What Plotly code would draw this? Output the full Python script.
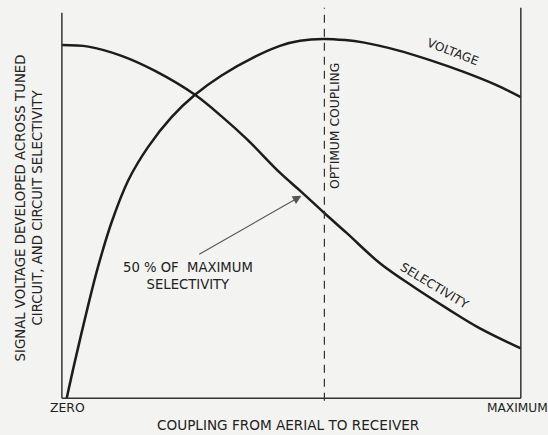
import plotly.graph_objects as go

# Coupling (0 = zero, 100 = maximum) and relative curve heights
sel_x = [0, 5.75, 13.0, 20.3, 29.0, 34.8, 40.3, 47.5, 52.3, 57.3, 62.1, 69.3, 76.6, 83.9, 91.1, 100]
sel_y = [91.6, 91.2, 88.8, 84.9, 78.7, 73.1, 67.2, 58.5, 53.4, 47.9, 42.8, 35.0, 28.9, 23.3, 18.1, 12.9]

volt_x = [1.05, 2.85, 5.75, 7.93, 10.85, 14.5, 18.8, 23.9, 29.0, 34.8, 42.1, 47.5, 51.9, 56.9,
          61.7, 65.6, 73.0, 80.2, 87.4, 94.7, 100]
volt_y = [0, 9.6, 24.2, 34.3, 45.7, 56.6, 65.2, 72.9, 78.7, 83.7, 88.6, 91.4, 92.7, 93.2,
          92.9, 92.3, 90.3, 87.7, 84.7, 81.2, 78.1]

optimum_x = 57.2
x_tick_labels = ["ZERO", "MAXIMUM"]
y_title = ["SIGNAL VOLTAGE DEVELOPED ACROSS TUNED", "CIRCUIT, AND CIRCUIT SELECTIVITY"]
x_title = "COUPLING FROM AERIAL TO RECEIVER"

INK = "#1c1c1c"
TXT = "#222222"
FONT = "DejaVu Sans"
BG = "#f3f3f1"

fig = go.Figure()
for xs, ys in ((sel_x, sel_y), (volt_x, volt_y)):
    fig.add_trace(go.Scatter(x=xs, y=ys, mode="lines",
                             line=dict(color=INK, width=2.5, shape="spline", smoothing=1.0),
                             hoverinfo="skip", showlegend=False))

# frame lines
fig.add_shape(type="line", x0=0, x1=0, y0=0, y1=100, line=dict(color="#333", width=1.5))
fig.add_shape(type="line", x0=100, x1=100, y0=0, y1=101.3, line=dict(color="#333", width=1.5))
fig.add_shape(type="line", x0=0, x1=100, y0=0, y1=0, line=dict(color="#333", width=1.5))
fig.add_shape(type="line", x0=optimum_x, x1=optimum_x, y0=-0.7, y1=101.3,
              line=dict(color="#333", width=1.2, dash="8px,6px"))

def fnt(s):
    return dict(family=FONT, size=s, color=TXT)

C = dict(xanchor="center", yanchor="middle", showarrow=False)
anns = [
    dict(xref="paper", yref="paper", x=0.0253, y=-0.0151, text=x_tick_labels[0], font=fnt(12.4), **C),
    dict(xref="paper", yref="paper", x=0.973, y=-0.0151, text=x_tick_labels[1], font=fnt(12.2), **C),
    dict(xref="paper", yref="paper", x=0.4926, y=-0.058, text=x_title, font=fnt(13.6), **C),
    dict(xref="paper", yref="paper", x=-0.0558, y=0.4887, text="<br>".join(y_title),
         textangle=-90, font=fnt(13.3), **C),
    dict(x=59.5, y=70.6, text="OPTIMUM COUPLING", textangle=-90, font=fnt(12.3), **C),
    dict(x=85.2, y=89.8, text="VOLTAGE", textangle=21, font=fnt(12), **C),
    dict(x=81.2, y=29.2, text="SELECTIVITY", textangle=31, font=fnt(12.3), **C),
    dict(x=27.5, y=31.7, text="50 % OF  MAXIMUM<br>SELECTIVITY", font=fnt(13.2), **C),
    dict(x=52.2, y=52.5, ax=29.6, ay=37.1, xref="x", yref="y", axref="x", ayref="y",
         text="", showarrow=True, arrowhead=2, arrowsize=1.6, arrowwidth=1.1, arrowcolor="#555"),
]
fig.update_layout(
    width=548, height=435,
    margin=dict(l=55, r=18, t=5, b=33),
    paper_bgcolor=BG, plot_bgcolor=BG,
    xaxis=dict(range=[-1.5, 102], visible=False),
    yaxis=dict(range=[-1, 102], visible=False),
    annotations=anns,
)
fig.write_html("out.html", config={"displayModeBar": False},
               post_script="document.body.style.margin='0';document.body.style.background='%s';" % BG)
